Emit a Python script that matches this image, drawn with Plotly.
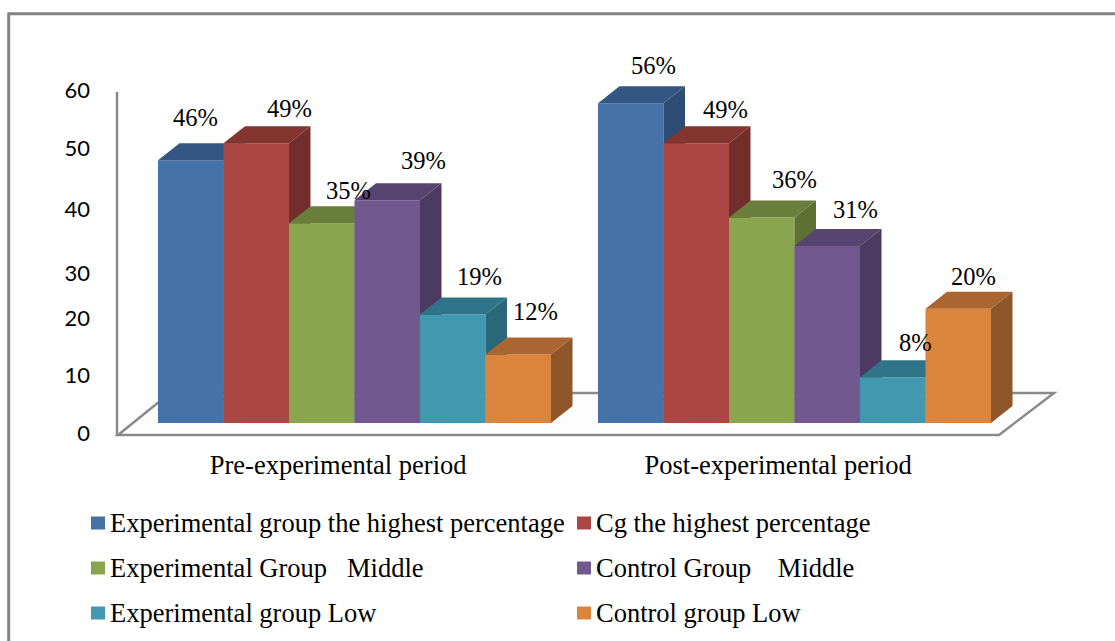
import plotly.graph_objects as go

W, H = 1115, 641

periods = ["Pre-experimental period", "Post-experimental period"]
series_names = [
    "Experimental group the highest percentage",
    "Cg the highest percentage",
    "Experimental Group   Middle",
    "Control Group    Middle",
    "Experimental group Low",
    "Control group Low",
]
pre_values = [46, 49, 35, 39, 19, 12]
post_values = [56, 49, 36, 31, 8, 20]
tick_labels = ["0", "10", "20", "30", "40", "50", "60"]

front_colors = ["#4572A7", "#AA4643", "#89A54E", "#71588F", "#4198AF", "#DB843D"]
top_colors = ["#335782", "#843530", "#6A7F3B", "#584470", "#2F7489", "#AA6530"]
side_colors = ["#2D4D74", "#722E2B", "#5E7132", "#4C3A62", "#2B677B", "#8F5629"]

# Drawing scale (pixels)
PX_PER_UNIT = 5.71
ZERO_Y = 423
SLOT_PX = 65.5
LEFT_PX = 158
GROUP_GAP = 440 / SLOT_PX
DEPTH_X = 21.5 / SLOT_PX
DEPTH_Y = 17 / PX_PER_UNIT

x_range = [-LEFT_PX / SLOT_PX, (W - LEFT_PX) / SLOT_PX]
y_range = [(ZERO_Y - H) / PX_PER_UNIT, ZERO_Y / PX_PER_UNIT]


def px(x):
    return x / W


def py(y):
    return 1 - y / H


def to_value(y):
    return (ZERO_Y - y) / PX_PER_UNIT


tick_pixels = [433, 375, 318, 273, 209, 148, 90]
label_shift = [
    [(4.5, 43), (33, 35), (27, 33), (36, 40), (27, 38), (17, 43)],
    [(23, 38), (29, 34), (33, 38), (28, 36), (23, 35), (15, 32)],
]

fig = go.Figure()
annotations = []

for i, name in enumerate(series_names):
    suffix = "" if i == 0 else str(i + 1)
    xs, ys = [], []
    for g, vals in enumerate([pre_values, post_values]):
        xs.append(g * GROUP_GAP + i + 0.5)
        ys.append(vals[i])
    fig.add_trace(go.Bar(
        x=xs, y=ys, width=1, name=name, marker=dict(color=front_colors[i], line=dict(width=0)),
        xaxis="x" + suffix, yaxis="y" + suffix, showlegend=False, hoverinfo="x+y",
    ))
    for xc, v in zip(xs, ys):
        l, r = xc - 0.5, xc + 0.5
        fig.add_trace(go.Scatter(
            x=[l, l + DEPTH_X, r + DEPTH_X, r, l], y=[v, v + DEPTH_Y, v + DEPTH_Y, v, v],
            mode="lines", fill="toself", fillcolor=top_colors[i], line=dict(width=0),
            xaxis="x" + suffix, yaxis="y" + suffix, showlegend=False, hoverinfo="skip",
        ))
        fig.add_trace(go.Scatter(
            x=[r, r + DEPTH_X, r + DEPTH_X, r, r], y=[v, v + DEPTH_Y, DEPTH_Y, 0, v],
            mode="lines", fill="toself", fillcolor=side_colors[i], line=dict(width=0),
            xaxis="x" + suffix, yaxis="y" + suffix, showlegend=False, hoverinfo="skip",
        ))
    for g, (xc, v) in enumerate(zip(xs, ys)):
        dx, dy = label_shift[g][i]
        annotations.append(dict(
            x=xc, y=v, xref="x", yref="y", text=f"{v}%", showarrow=False,
            xshift=dx, yshift=dy, font=dict(family="Liberation Serif", size=24.5, color="#000"),
        ))

GRAY = "#8A8A8A"
shapes = [
    # floor
    dict(type="path", xref="paper", yref="paper", layer="below",
         path=f"M {px(118)} {py(435)} L {px(999)} {py(435)} L {px(1054)} {py(393)} "
              f"L {px(170)} {py(393)} Z",
         fillcolor="#FDFDFD", line=dict(color=GRAY, width=2.5)),
    # wall
    dict(type="line", xref="paper", yref="paper", layer="below",
         x0=px(117), x1=px(117), y0=py(92), y1=py(436), line=dict(color=GRAY, width=2.5)),
    # frame
    dict(type="line", xref="paper", yref="paper", layer="below",
         x0=px(8.7), x1=px(8.7), y0=py(12.4), y1=py(641), line=dict(color="#828282", width=3)),
    dict(type="line", xref="paper", yref="paper", layer="below",
         x0=px(8), x1=px(1115), y0=py(13.7), y1=py(13.7), line=dict(color="#828282", width=3)),
]

legend_x = [(91, 108), (577, 594)]
legend_y = [523, 568, 613]
for i, name in enumerate(series_names):
    (sx, tx), ly = legend_x[i % 2], legend_y[i // 2]
    shapes.append(dict(type="rect", xref="paper", yref="paper", x0=px(sx), x1=px(sx + 14),
                       y0=py(ly - 6.5), y1=py(ly + 6.5), fillcolor=front_colors[i], line=dict(width=0)))
    annotations.append(dict(
        x=px(tx), y=py(ly), xref="paper", yref="paper", xanchor="left", yanchor="middle",
        text=name.replace("  ", "\u00a0\u00a0"), showarrow=False,
        font=dict(family="Liberation Serif", size=26.5, color="#000"),
    ))

layout = dict(
    width=W, height=H, margin=dict(l=0, r=0, t=0, b=0, pad=0),
    paper_bgcolor="#FFFFFF", plot_bgcolor="rgba(0,0,0,0)", showlegend=False,
    shapes=shapes, annotations=annotations,
    xaxis=dict(range=x_range, domain=[0, 1], anchor="free", position=py(446), showgrid=False,
               zeroline=False, showline=False, ticks="",
               tickmode="array", tickvals=[g * GROUP_GAP + 2.75 for g in range(2)], ticktext=periods,
               tickfont=dict(family="Liberation Serif", size=26.5, color="#000")),
    yaxis=dict(range=y_range, domain=[0, 1], anchor="free", position=px(90), showgrid=False,
               zeroline=False, showline=False, ticks="",
               tickmode="array", tickvals=[to_value(p) for p in tick_pixels], ticktext=tick_labels,
               tickfont=dict(family="Lato", size=22, color="#000")),
)
for i in range(1, 6):
    s = str(i + 1)
    layout["xaxis" + s] = dict(range=x_range, overlaying="x", anchor="y" + s, visible=False)
    layout["yaxis" + s] = dict(range=y_range, overlaying="y", anchor="x" + s, visible=False)

fig.update_layout(**layout)
fig.write_html("out.html", config={"displayModeBar": False},
               post_script="document.body.style.margin='0';document.body.style.overflow='hidden';")
